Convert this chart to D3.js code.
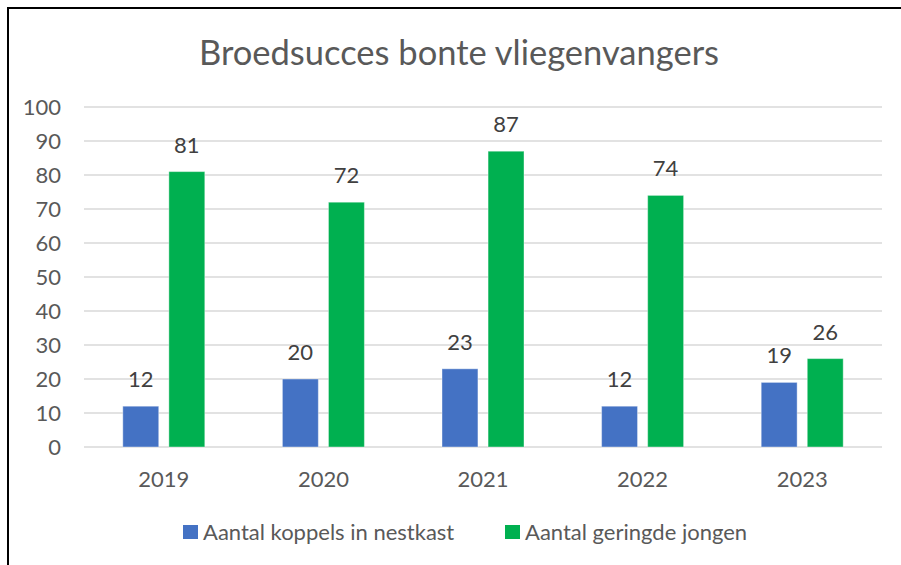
<!DOCTYPE html>
<html>
<head>
<meta charset="utf-8">
<script src="https://cdn.jsdelivr.net/npm/d3@7"></script>
<style>
  body { margin: 0; background: #fff; }
  text { font-family: Lato, "Open Sans", sans-serif; fill: #595959; }
</style>
</head>
<body>
<svg id="chart"></svg>
<script>
var years = ["2019", "2020", "2021", "2022", "2023"];
var seriesNames = ["Aantal koppels in nestkast", "Aantal geringde jongen"];
var koppels = [12, 20, 23, 12, 19];
var jongen = [81, 72, 87, 74, 26];
var yTicks = [0, 10, 20, 30, 40, 50, 60, 70, 80, 90, 100];

var w = 901, h = 565;
var margin = { left: 84, right: 19, top: 107, bottom: 118 };
var colors = ["#4472C4", "#00B050"];

var svg = d3.select("#chart").attr("width", w).attr("height", h);

// chart border
svg.append("rect")
    .attr("x", 8).attr("y", 8)
    .attr("width", 900).attr("height", 600)
    .attr("fill", "none")
    .attr("stroke", "#000")
    .attr("stroke-width", 2);

var x = d3.scaleBand().domain(years).range([margin.left, w - margin.right]);
var xs = d3.scaleBand().domain(seriesNames).range([0, 82]).paddingInner(0.22);
var y = d3.scaleLinear().domain([0, 100]).range([h - margin.bottom, margin.top]);

// gridlines
svg.append("g").selectAll("line")
    .data(yTicks)
    .enter().append("line")
    .attr("x1", margin.left).attr("x2", w - margin.right)
    .attr("y1", function(d) { return y(d); })
    .attr("y2", function(d) { return y(d); })
    .attr("stroke", "#d9d9d9")
    .attr("stroke-width", 1.5);

// y axis labels
var yAxis = d3.axisLeft(y).tickValues(yTicks).tickSize(0).tickPadding(0);
var gy = svg.append("g").attr("transform", "translate(" + 61 + ",0)").call(yAxis);
gy.select(".domain").remove();
gy.selectAll("text").style("font-size", "22px").attr("fill", "#595959")
    .style("font-family", "Lato, 'Open Sans', sans-serif");

// x axis labels
var xAxis = d3.axisBottom(x).tickSize(0).tickPadding(0);
var gx = svg.append("g").attr("transform", "translate(0," + (h - margin.bottom + 24.5) + ")").call(xAxis);
gx.select(".domain").remove();
gx.selectAll("text").style("font-size", "22px").attr("fill", "#595959")
    .style("font-family", "Lato, 'Open Sans', sans-serif");

var data = [];
years.forEach(function(yr, i) {
    data.push({ year: yr, s: seriesNames[0], v: koppels[i], c: colors[0] });
    data.push({ year: yr, s: seriesNames[1], v: jongen[i], c: colors[1] });
});

function barX(d) {
    return x(d.year) + x.bandwidth() / 2 - 41 + xs(d.s);
}

svg.append("g").selectAll("rect")
    .data(data)
    .enter().append("rect")
    .attr("x", barX)
    .attr("y", function(d) { return y(d.v); })
    .attr("width", xs.bandwidth())
    .attr("height", function(d) { return y(0) - y(d.v); })
    .attr("fill", function(d) { return d.c; })
    .attr("stroke", "#fff")
    .attr("stroke-opacity", 0.4)
    .attr("stroke-width", 1);

// data labels
svg.append("g").selectAll("text")
    .data(data)
    .enter().append("text")
    .attr("x", function(d) { return barX(d) + xs.bandwidth() / 2; })
    .attr("y", function(d) { return y(d.v) - 19; })
    .attr("text-anchor", "middle")
    .style("font-size", "22px")
    .style("fill", "#404040")
    .text(function(d) { return d.v; });

// title
svg.append("text")
    .attr("x", 459).attr("y", 65)
    .attr("text-anchor", "middle")
    .style("font-size", "34.5px")
    .text("Broedsucces bonte vliegenvangers");

// legend
var legendX = [183, 505];
var legend = svg.append("g").selectAll("g")
    .data(seriesNames)
    .enter().append("g")
    .attr("transform", function(d, i) { return "translate(" + legendX[i] + ",525)"; });
legend.append("rect")
    .attr("width", 15).attr("height", 14)
    .attr("fill", function(d, i) { return colors[i]; });
legend.append("text")
    .attr("x", 20).attr("y", 15)
    .style("font-size", "22px")
    .text(function(d) { return d; });
</script>
</body>
</html>
